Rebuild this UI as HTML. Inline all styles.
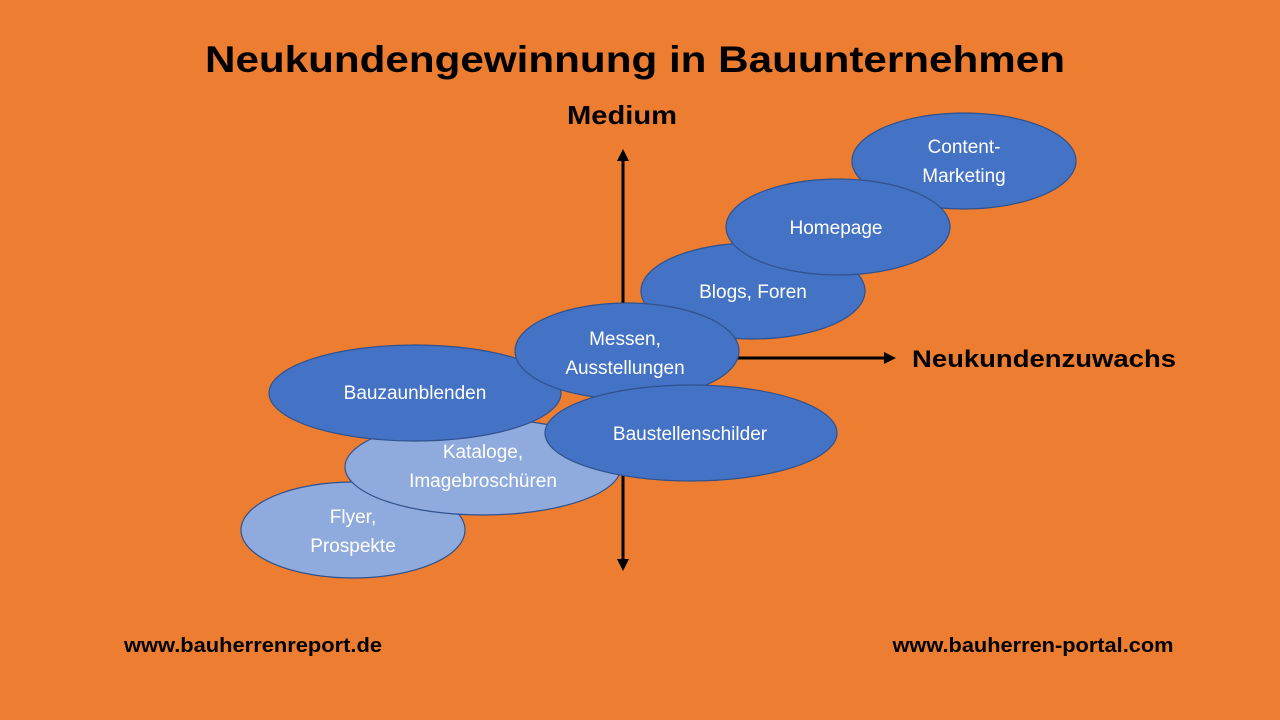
<!DOCTYPE html>
<html><head><meta charset="utf-8"><style>
html,body{margin:0;padding:0;background:#ed7d31;}
svg{display:block}
</style></head><body>
<svg width="1280" height="720" xmlns="http://www.w3.org/2000/svg" font-family="Liberation Sans, sans-serif">
<rect width="1280" height="720" fill="#ed7d31"/>
<text x="635" y="72" text-anchor="middle" font-size="37" font-weight="bold" fill="#000" textLength="860" lengthAdjust="spacingAndGlyphs">Neukundengewinnung in Bauunternehmen</text>
<text x="622" y="124" text-anchor="middle" font-size="26" font-weight="bold" fill="#000" textLength="110" lengthAdjust="spacingAndGlyphs">Medium</text>
<text x="1044" y="367" text-anchor="middle" font-size="24" font-weight="bold" fill="#000" textLength="264" lengthAdjust="spacingAndGlyphs">Neukundenzuwachs</text>
<text x="253" y="652" text-anchor="middle" font-size="20" font-weight="bold" fill="#000" textLength="258" lengthAdjust="spacingAndGlyphs">www.bauherrenreport.de</text>
<text x="1033" y="652" text-anchor="middle" font-size="20" font-weight="bold" fill="#000" textLength="281" lengthAdjust="spacingAndGlyphs">www.bauherren-portal.com</text>
<!-- axes -->
<line x1="623" y1="158" x2="623" y2="562" stroke="#000" stroke-width="3"/>
<polygon points="623,149 617,161 629,161" fill="#000"/>
<polygon points="623,571 617,559 629,559" fill="#000"/>
<line x1="623" y1="358" x2="886" y2="358" stroke="#000" stroke-width="3"/>
<polygon points="896,358 884,352 884,364" fill="#000"/>
<g stroke="#2f528f" stroke-width="1.2" font-size="19" fill="#fff">
<ellipse cx="964" cy="161" rx="112" ry="48" fill="#4472c4"/>
<ellipse cx="753" cy="291" rx="112" ry="48" fill="#4472c4"/>
<ellipse cx="838" cy="227" rx="112" ry="48" fill="#4472c4"/>
<ellipse cx="353" cy="530" rx="112" ry="48" fill="#8faadc"/>
<ellipse cx="483" cy="467" rx="138" ry="48" fill="#8faadc"/>
<ellipse cx="415" cy="393" rx="146" ry="48" fill="#4472c4"/>
<ellipse cx="627" cy="351" rx="112" ry="48" fill="#4472c4"/>
<ellipse cx="691" cy="433" rx="146" ry="48" fill="#4472c4"/>
</g>
<g font-size="19" fill="#fff" text-anchor="middle">
<text x="964" y="153">Content-</text>
<text x="964" y="182">Marketing</text>
<text x="836" y="234">Homepage</text>
<text x="753" y="298">Blogs, Foren</text>
<text x="625" y="345">Messen,</text>
<text x="625" y="374">Ausstellungen</text>
<text x="415" y="399">Bauzaunblenden</text>
<text x="690" y="440">Baustellenschilder</text>
<text x="483" y="458">Kataloge,</text>
<text x="483" y="487">Imagebroschüren</text>
<text x="353" y="523">Flyer,</text>
<text x="353" y="552">Prospekte</text>
</g>
</svg>
</body></html>
